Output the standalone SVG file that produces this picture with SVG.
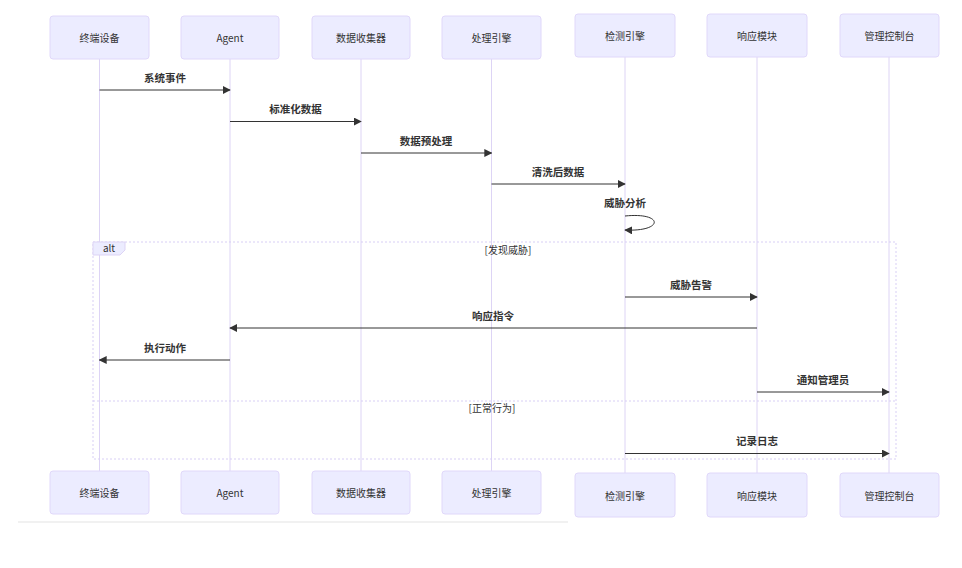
<svg xmlns="http://www.w3.org/2000/svg" width="962" height="568" viewBox="0 0 962 568">
<style>
.actor{fill:#ececff;stroke:#e0d8fa;stroke-width:1}
.at{font-family:"Noto Sans CJK SC","Liberation Sans",sans-serif;font-size:10px;fill:#333;text-anchor:middle;dominant-baseline:central}
.life{stroke:#ddd4f5;stroke-width:1}
.msg{stroke:#333;stroke-width:1;fill:none}
.mt{font-family:"Noto Sans CJK SC","Liberation Sans",sans-serif;font-size:10.5px;font-weight:bold;fill:#333;text-anchor:middle}
.loop{stroke:#d8cff5;stroke-width:1;stroke-dasharray:2 2;fill:none}
.lt{font-family:"Noto Sans CJK SC","Liberation Sans",sans-serif;font-size:10px;fill:#333;text-anchor:middle}
</style>
<defs>
<marker id="ah" viewBox="0 0 10 10" refX="9" refY="5" markerWidth="8" markerHeight="8" markerUnits="userSpaceOnUse" orient="auto">
<path d="M0,0 L10,5 L0,10 z" fill="#333"/>
</marker>
</defs>
<rect width="962" height="568" fill="#fff"/>
<g id="lifelines">
<line class="life" x1="99.5" y1="59" x2="99.5" y2="471"/>
<line class="life" x1="230" y1="59" x2="230" y2="471"/>
<line class="life" x1="361" y1="59" x2="361" y2="471"/>
<line class="life" x1="491.5" y1="59" x2="491.5" y2="471"/>
<line class="life" x1="625" y1="57" x2="625" y2="473"/>
<line class="life" x1="757" y1="57" x2="757" y2="473"/>
<line class="life" x1="889" y1="57" x2="889" y2="473"/>
</g>
<g id="alt-frame">
<rect class="loop" x="93" y="242" width="803" height="217"/>
<path d="M93,242 H125 V250 L120,255 H93 Z" fill="#ececff" stroke="#ddd4f5" stroke-width="1"/>
<text x="109" y="252" class="lt">alt</text>
<text x="508" y="254" class="lt">[发现威胁]</text>
<line class="loop" x1="93" y1="401" x2="896" y2="401"/>
<text x="492" y="412" class="lt">[正常行为]</text>
</g>
<g id="actor-top-1"><rect class="actor" x="50" y="16" width="99" height="43" rx="3"/><text class="at" x="99.5" y="37.5">终端设备</text></g>
<g id="actor-top-2"><rect class="actor" x="181" y="16" width="98" height="43" rx="3"/><text class="at" x="230" y="37.5">Agent</text></g>
<g id="actor-top-3"><rect class="actor" x="312" y="16" width="98" height="43" rx="3"/><text class="at" x="361" y="37.5">数据收集器</text></g>
<g id="actor-top-4"><rect class="actor" x="442" y="16" width="99" height="43" rx="3"/><text class="at" x="491.5" y="37.5">处理引擎</text></g>
<g id="actor-top-5"><rect class="actor" x="575" y="14" width="100" height="43" rx="3"/><text class="at" x="625" y="35.5">检测引擎</text></g>
<g id="actor-top-6"><rect class="actor" x="707" y="14" width="100" height="43" rx="3"/><text class="at" x="757" y="35.5">响应模块</text></g>
<g id="actor-top-7"><rect class="actor" x="840" y="14" width="99" height="43" rx="3"/><text class="at" x="889.5" y="35.5">管理控制台</text></g>
<g id="actor-bottom-1"><rect class="actor" x="50" y="471" width="99" height="43" rx="3"/><text class="at" x="99.5" y="492.5">终端设备</text></g>
<g id="actor-bottom-2"><rect class="actor" x="181" y="471" width="98" height="43" rx="3"/><text class="at" x="230" y="492.5">Agent</text></g>
<g id="actor-bottom-3"><rect class="actor" x="312" y="471" width="98" height="43" rx="3"/><text class="at" x="361" y="492.5">数据收集器</text></g>
<g id="actor-bottom-4"><rect class="actor" x="442" y="471" width="99" height="43" rx="3"/><text class="at" x="491.5" y="492.5">处理引擎</text></g>
<g id="actor-bottom-5"><rect class="actor" x="575" y="473" width="100" height="44" rx="3"/><text class="at" x="625" y="495">检测引擎</text></g>
<g id="actor-bottom-6"><rect class="actor" x="707" y="473" width="100" height="44" rx="3"/><text class="at" x="757" y="495">响应模块</text></g>
<g id="actor-bottom-7"><rect class="actor" x="840" y="473" width="99" height="44" rx="3"/><text class="at" x="889.5" y="495">管理控制台</text></g>
<g id="connectors">
<line class="msg" x1="99.5" y1="90" x2="230" y2="90" marker-end="url(#ah)"/>
<text class="mt" x="165" y="82">系统事件</text>
<line class="msg" x1="230" y1="121.5" x2="361" y2="121.5" marker-end="url(#ah)"/>
<text class="mt" x="295.5" y="113">标准化数据</text>
<line class="msg" x1="361" y1="153" x2="491.5" y2="153" marker-end="url(#ah)"/>
<text class="mt" x="426" y="145">数据预处理</text>
<line class="msg" x1="491.5" y1="184" x2="625" y2="184" marker-end="url(#ah)"/>
<text class="mt" x="558" y="176">清洗后数据</text>
<text class="mt" x="625" y="207">威胁分析</text>
<path class="msg" d="M625,216 C664,212 664,232 625,230" marker-end="url(#ah)"/>
<line class="msg" x1="625" y1="297" x2="757" y2="297" marker-end="url(#ah)"/>
<text class="mt" x="691" y="289">威胁告警</text>
<line class="msg" x1="757" y1="328" x2="230" y2="328" marker-end="url(#ah)"/>
<text class="mt" x="493" y="320">响应指令</text>
<line class="msg" x1="230" y1="360" x2="99.5" y2="360" marker-end="url(#ah)"/>
<text class="mt" x="165" y="352">执行动作</text>
<line class="msg" x1="757" y1="392" x2="889" y2="392" marker-end="url(#ah)"/>
<text class="mt" x="823" y="384">通知管理员</text>
<line class="msg" x1="625" y1="453.5" x2="889" y2="453.5" marker-end="url(#ah)"/>
<text class="mt" x="757" y="445">记录日志</text>
</g>
<line x1="18" y1="522" x2="568" y2="522" stroke="#ececec" stroke-width="1.5"/>
</svg>
